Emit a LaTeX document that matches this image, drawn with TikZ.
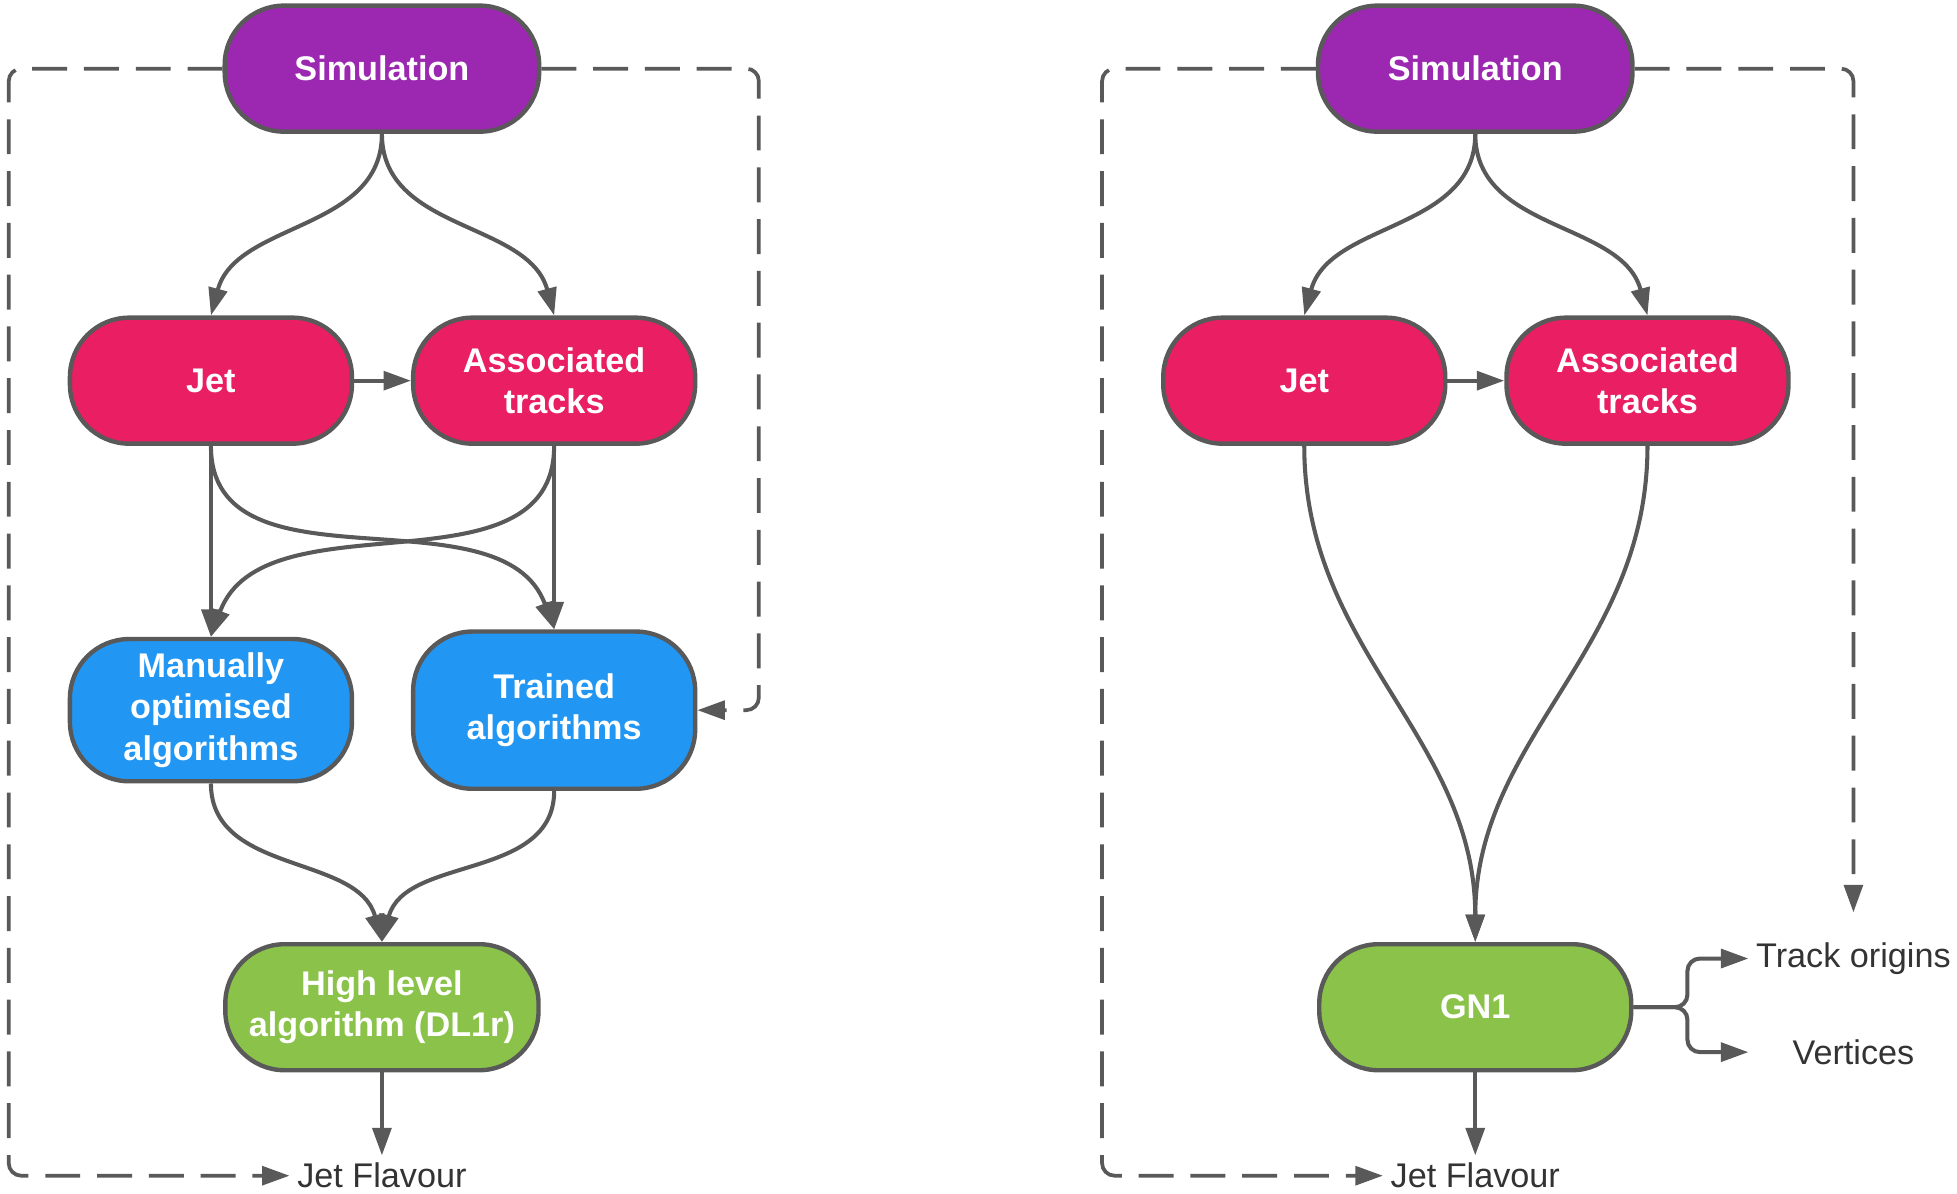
\documentclass[tikz,border=0pt]{standalone}
\usepackage{fontspec}
\setmainfont{Liberation Sans}
\usetikzlibrary{arrows.meta}
\definecolor{simcol}{HTML}{9C27B0}
\definecolor{inpcol}{HTML}{E91E63}
\definecolor{algcol}{HTML}{2196F3}
\definecolor{outcol}{HTML}{8BC34A}
\definecolor{edgecol}{HTML}{595959}
\definecolor{txtcol}{HTML}{333333}

\begin{document}
\begin{tikzpicture}[x=0.02cm, y=-0.02cm,
  pill/.style={draw=edgecol, line width=2pt, rounded corners=0.95cm, text=white,
    font=\fontsize{15.6}{18.8}\selectfont\bfseries, align=center, inner sep=0pt,
    minimum width=4.52cm, minimum height=2.02cm},
  outtxt/.style={text=txtcol, font=\fontsize{15.6}{18.8}\selectfont},
  arr/.style={draw=edgecol, line width=1.85pt, -{Triangle[length=0.44cm,width=0.3cm]}},
  feedback/.style={draw=edgecol, line width=1.7pt, dash pattern=on 0.56cm off 0.27cm,
    rounded corners=0.2cm, -{Triangle[length=0.44cm,width=0.3cm]}}]
  \useasboundingbox (0,0) rectangle (1568,956.6);

  % Nodes (left)
  \node[pill, fill=simcol, minimum width=5.04cm] (sim_l) at (306,55) {Simulation};
  \node[pill, fill=inpcol] (jet_l) at (169,305) {Jet};
  \node[pill, fill=inpcol] (trk_l) at (444,305) {Associated\\tracks};
  \node[pill, fill=algcol, minimum height=2.28cm] (man) at (169,569) {Manually\\optimised\\algorithms};
  \node[pill, fill=algcol, minimum height=2.52cm] (trained) at (444,569) {Trained\\algorithms};
  \node[pill, fill=outcol, minimum width=5.02cm] (dl1r) at (306,807) {High level\\algorithm (DL1r)};
  \node[outtxt] (flav_l) at (306,942) {Jet Flavour};
  \coordinate (box_l) at (7,942);
  \coordinate (box_lr) at (608,569);

  % Nodes (right)
  \node[pill, fill=simcol, minimum width=5.04cm] (sim_r) at (1182,55) {Simulation};
  \node[pill, fill=inpcol] (jet_r) at (1045,305) {Jet};
  \node[pill, fill=inpcol] (trk_r) at (1320,305) {Associated\\tracks};
  \node[pill, fill=outcol, minimum width=5.0cm] (gn1) at (1182,807) {GN1};
  \node[outtxt] (flav_r) at (1182,942) {Jet Flavour};
  \node[outtxt] (orig) at (1485,768) {Track origins};
  \node[outtxt] (vert) at (1485,843) {Vertices};
  \coordinate (box_r) at (883,942);
  \coordinate (tip_r) at (1485,731);
  \coordinate (split) at (1352,807);

  % Edges (left)
  \draw[arr] (sim_l.south) to[out=-90, in=75] (jet_l.north);
  \draw[arr] (sim_l.south) to[out=-90, in=105] (trk_l.north);
  \draw[arr] (jet_l.east) -- (trk_l.west);
  \draw[arr] (jet_l.south) -- (man.north);
  \draw[arr] (trk_l.south) -- (trained.north);
  \draw[arr] (jet_l.south) to[out=-90, in=110] (trained.north);
  \draw[arr] (trk_l.south) to[out=-90, in=70] (man.north);
  \draw[arr] (man.south) to[out=-90, in=105] (dl1r.north);
  \draw[arr] (trained.south) to[out=-90, in=75] (dl1r.north);
  \draw[arr] (dl1r.south) -- (flav_l.north);
  \draw[feedback] (sim_l.west) -| (box_l) -- (flav_l.west);
  \draw[feedback] (sim_l.east) -| (box_lr) -- (trained.east);

  % Edges (right)
  \draw[arr] (sim_r.south) to[out=-90, in=75] (jet_r.north);
  \draw[arr] (sim_r.south) to[out=-90, in=105] (trk_r.north);
  \draw[arr] (jet_r.east) -- (trk_r.west);
  \draw[arr] (jet_r.south) to[out=-90, in=90] (gn1.north);
  \draw[arr] (trk_r.south) to[out=-90, in=90] (gn1.north);
  \draw[arr] (gn1.south) -- (flav_r.north);
  \draw[arr, rounded corners=0.2cm] (gn1.east) -- (split) |- (orig.west);
  \draw[arr, rounded corners=0.2cm] (gn1.east) -- (split) |- (vert.west -| orig.west);
  \draw[feedback] (sim_r.west) -| (box_r) -- (flav_r.west);
  \draw[feedback] (sim_r.east) -| (tip_r);
\end{tikzpicture}
\end{document}
